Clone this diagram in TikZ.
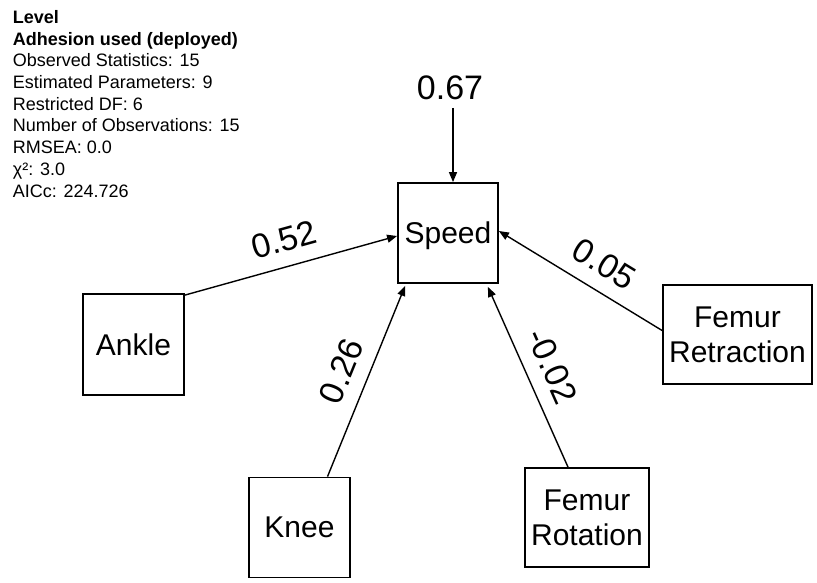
\documentclass[tikz,border=0pt]{standalone}
\usepackage{fontspec}
\setmainfont{Liberation Sans}
\usetikzlibrary{arrows.meta,calc}
\begin{document}
\begin{tikzpicture}[x=1pt,y=-1pt,
  hdr/.style={anchor=base west, inner sep=0pt, font=\fontsize{18}{21}\selectfont},
  hdrb/.style={hdr, font=\fontsize{18}{21}\selectfont\bfseries},
  var/.style={draw, line width=1.8pt, inner sep=0pt, align=center,
    font=\fontsize{30}{35}\selectfont},
  edge/.style={line width=1.4pt, -{Triangle[length=10pt,width=8pt]}},
  lab/.style={sloped, above, midway, inner sep=14pt, font=\fontsize{34}{34}\selectfont}
]
\useasboundingbox (0,0) rectangle (817,583);

% model summary
\node[hdrb] (h1) at (12.7,23.5) {Level};
\node[hdrb] (h2) at (12.7,45.2) {Adhesion used (deployed)};
\node[hdr]  (h3) at (12.7,66.9) {Observed Statistics: 15};
\node[hdr]  (h4) at (12.7,88.6) {Estimated Parameters: 9};
\node[hdr]  (h5) at (12.7,110.3) {Restricted DF: 6};
\node[hdr]  (h6) at (12.7,132) {Number of Observations: 15};
\node[hdr]  (h7) at (12.7,153.7) {RMSEA: 0.0};
\node[hdr]  (h8) at (12.7,175.4) {χ²: 3.0};
\node[hdr]  (h9) at (12.7,197.1) {AICc: 224.726};

% variables
\node[var, minimum width=100pt, minimum height=100pt, text depth=0pt] (speed) at (448,233) {Speed};
\node[var, minimum width=101pt, minimum height=101pt] (ankle) at (133.5,344.5) {Ankle};
\node[var, minimum width=101pt, minimum height=100pt] (knee) at (299.5,527.5) {Knee};
\node[var, minimum width=149pt, minimum height=99pt] (fret) at (737.5,334.5) {Femur\\Retraction};
\node[var, minimum width=124pt, minimum height=99pt] (frot) at (587,517.5) {Femur\\Rotation};

% explained variance
\node[anchor=base, inner sep=0pt, font=\fontsize{34}{34}\selectfont] (rsq) at (450,100) {0.67};
\coordinate (rtail) at (453,108);
\draw[edge] (rtail) -- (rtail |- speed.north);

% path coefficients
\draw[edge] ($(ankle.north east)+(0,2)$) -- ($(speed.west)+(0,3)$) node[lab] {0.52};
\draw[edge] ($(knee.north)+(28,0)$) -- ($(speed.south west)+(8,2)$) node[lab] {0.26};
\draw[edge] ($(fret.west)+(0,-4)$) -- ($(speed.east)+(0,-2)$) node[lab, pos=0.44] {0.05};
\draw[edge] ($(frot.north)+(-19,0)$) -- ($(speed.south east)+(-11,3)$) node[lab] {-0.02};
\end{tikzpicture}
\end{document}
